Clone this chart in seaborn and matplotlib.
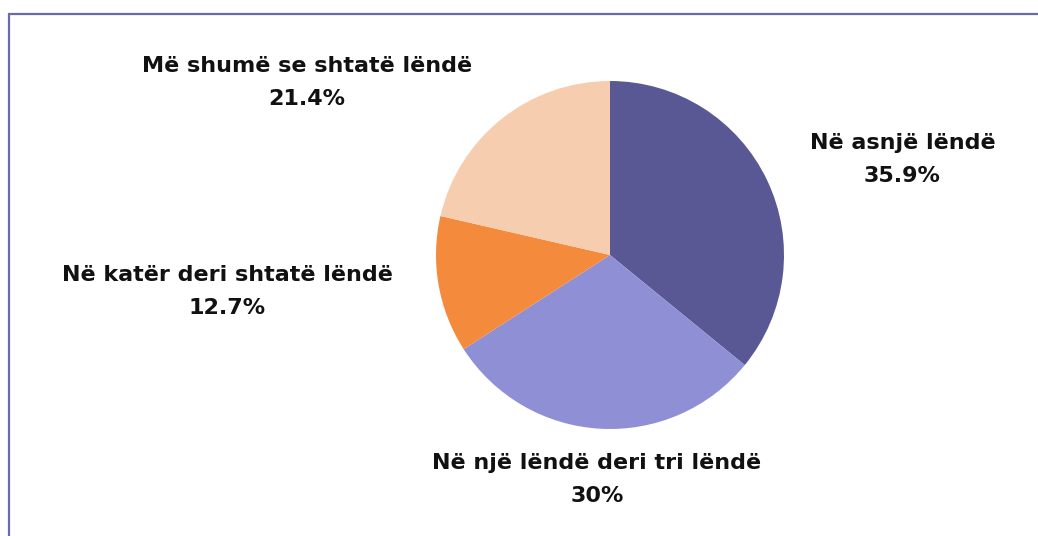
import matplotlib
matplotlib.use("Agg")
import matplotlib.pyplot as plt
import seaborn as sns
from matplotlib.lines import Line2D

categories = ["Në asnjë lëndë", "Në një lëndë deri tri lëndë",
              "Në katër deri shtatë lëndë", "Më shumë se shtatë lëndë"]
values = [35.9, 30, 12.7, 21.4]
value_labels = ["35.9%", "30%", "12.7%", "21.4%"]
colors = ["#5a5894", "#8f8fd6", "#f48b3c", "#f7cdb0"]
# label anchor offsets (in pie-radius units), layout only
label_pos = [(1.68, 0.55), (-0.075, -1.29), (-2.2, -0.21), (-1.74, 0.99)]

sns.set_theme(style="white")
plt.rcParams['font.family'] = ['DejaVu Sans']

W, H, dpi = 1038, 536, 100
fig = plt.figure(figsize=(W / dpi, H / dpi), dpi=dpi)
fig.patch.set_facecolor("white")
ax = fig.add_axes([0, 0, 1, 1])

cx, cy, r = 610, 255, 174
ax.pie(values, colors=colors, startangle=90, counterclock=False,
       radius=1, center=(0, 0), wedgeprops=dict(linewidth=0))
ax.set_xlim(-cx / r, (W - cx) / r)
ax.set_ylim(-(H - cy) / r, cy / r)
ax.set_aspect("equal")
ax.axis("off")

for cat, vl, (x, y) in zip(categories, value_labels, label_pos):
    ax.text(x, y, f"{cat}\n{vl}", ha="center", va="center",
            fontsize=16, color="#111111", linespacing=1.8, fontweight="bold")

border = "#6b6ba8"
fig.add_artist(Line2D([9 / W, 1.0], [1 - 14 / H, 1 - 14 / H], transform=fig.transFigure,
                      color=border, linewidth=1.6))
fig.add_artist(Line2D([9 / W, 9 / W], [1 - 14 / H, 0], transform=fig.transFigure,
                      color=border, linewidth=1.6))

fig.savefig("out.png", dpi=dpi, facecolor="white")
